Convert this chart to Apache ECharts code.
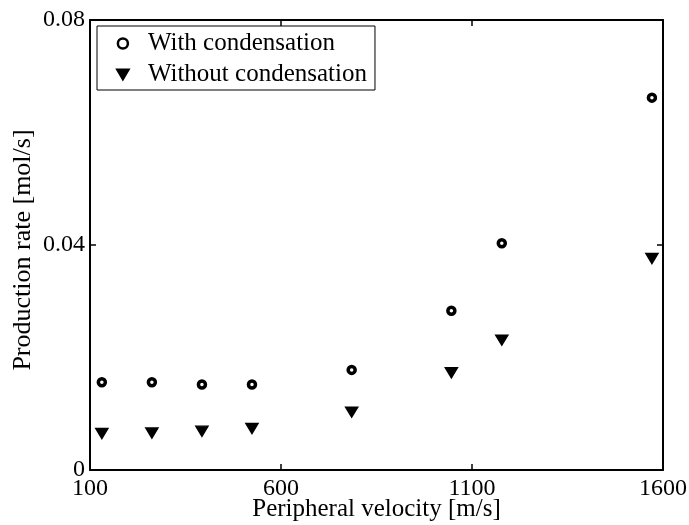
<!DOCTYPE html>
<html>
<head>
<meta charset="utf-8">
<script src="https://cdn.jsdelivr.net/npm/echarts@6/dist/echarts.min.js"></script>
<style>
html,body{margin:0;padding:0;background:#fff;}
#chart{width:689px;height:525px;}
</style>
</head>
<body>
<div id="chart"></div>
<script>
var velocities = [131, 262, 393, 524, 785, 1046, 1178, 1571];
var withCondensation = [0.0156, 0.0156, 0.0152, 0.0152, 0.0178, 0.0283, 0.0403, 0.0662];
var withoutCondensation = [0.0065, 0.0066, 0.0069, 0.0074, 0.0103, 0.0173, 0.0231, 0.0376];
var xTicks = [100, 600, 1100, 1600];
var yTicks = [0, 0.04, 0.08];
var seriesNames = ['With condensation', 'Without condensation'];

function pairs(xs, ys) { return xs.map(function (x, i) { return [x, ys[i]]; }); }

var FONT = 'Liberation Serif';
var chart = echarts.init(document.getElementById('chart'), null, {renderer: 'canvas'});

var baseAxis = {
  axisLine: {show: true, onZero: false, lineStyle: {color: '#000', width: 2}},
  axisTick: {show: true, inside: true, length: 6, lineStyle: {color: '#000', width: 1.5}},
  splitLine: {show: false}
};

chart.setOption({
  animation: false,
  backgroundColor: '#fff',
  grid: {left: 90, top: 20, right: 26, bottom: 55, containLabel: false, outerBoundsMode: 'none'},
  legend: {
    orient: 'vertical',
    left: 97, top: 26,
    padding: [5, 8, 3, 19],
    itemWidth: 40, itemHeight: 10, itemGap: 6,
    borderColor: '#000', borderWidth: 1,
    backgroundColor: '#fff',
    textStyle: {fontFamily: FONT, fontSize: 25, color: '#000', lineHeight: 25},
    data: [
      {name: seriesNames[0], itemStyle: {color: '#fff', borderColor: '#000', borderWidth: 2.5}},
      {name: seriesNames[1]}
    ]
  },
  xAxis: [
    Object.assign({}, baseAxis, {
      type: 'value', min: xTicks[0], max: xTicks[xTicks.length - 1], interval: 500,
      position: 'bottom',
      name: 'Peripheral velocity [m/s]', nameLocation: 'middle', nameGap: 27, nameMoveOverlap: false,
      nameTextStyle: {fontFamily: FONT, fontSize: 25, color: '#000'},
      axisLabel: {fontFamily: FONT, fontSize: 24, color: '#000', margin: 7,
        formatter: function (v) { return String(v); }}
    }),
    Object.assign({}, baseAxis, {
      type: 'value', min: xTicks[0], max: xTicks[xTicks.length - 1], interval: 500,
      position: 'top', axisLabel: {show: false}
    })
  ],
  yAxis: [
    Object.assign({}, baseAxis, {
      type: 'value', min: yTicks[0], max: yTicks[yTicks.length - 1], interval: 0.04,
      position: 'left',
      name: 'Production rate [mol/s]', nameLocation: 'middle', nameGap: 54, nameMoveOverlap: false,
      nameTextStyle: {fontFamily: FONT, fontSize: 26, color: '#000', padding: [0, 10, 0, 0]},
      axisLabel: {fontFamily: FONT, fontSize: 24, color: '#000', margin: 5,
        formatter: function (v) { return v === 0 ? '0' : v.toFixed(2); }}
    }),
    Object.assign({}, baseAxis, {
      type: 'value', min: yTicks[0], max: yTicks[yTicks.length - 1], interval: 0.04,
      position: 'right', axisLabel: {show: false}
    })
  ],
  series: [
    {
      name: seriesNames[0], type: 'scatter', xAxisIndex: 0, yAxisIndex: 0,
      symbol: 'circle', symbolSize: 7,
      itemStyle: {color: '#fff', borderColor: '#000', borderWidth: 3.5, opacity: 1},
      data: pairs(velocities, withCondensation)
    },
    {
      name: seriesNames[1], type: 'scatter', xAxisIndex: 0, yAxisIndex: 0,
      symbol: 'path://M0,0 L10,0 L5,8.5 Z', symbolSize: [12, 10],
      itemStyle: {color: '#000', borderColor: '#000', borderWidth: 1.5, opacity: 1},
      data: pairs(velocities, withoutCondensation)
    }
  ]
});
</script>
</body>
</html>
